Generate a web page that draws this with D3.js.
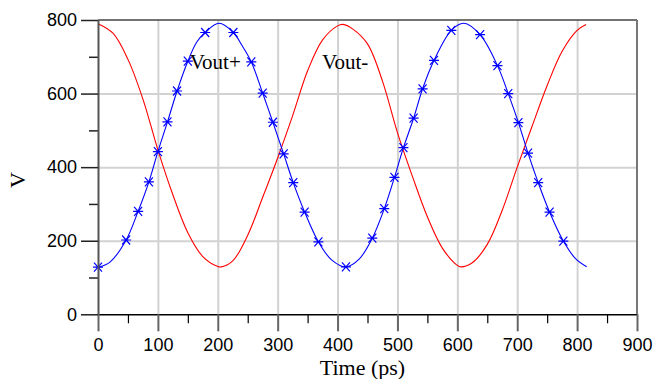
<!DOCTYPE html>
<html>
<head>
<meta charset="utf-8">
<script src="https://cdn.jsdelivr.net/npm/d3@7/dist/d3.min.js"></script>
<style>
  html, body { margin: 0; padding: 0; background: #fff; }
  svg { display: block; }
</style>
</head>
<body>
<svg id="chart" width="654" height="379"></svg>
<script>
// ---- data ----
const xTicks = [0, 100, 200, 300, 400, 500, 600, 700, 800, 900];
const xMinorTicks = [50, 150, 250, 350, 450, 550, 650, 750, 850];
const yTicks = [0, 200, 400, 600, 800];
const yMinorTicks = [100, 300, 500, 700];
const xTitle = "Time (ps)";
const yTitle = "V";

// Vout+ (blue) waveform
const voutPlusT = [0, 20, 47, 67, 85, 100, 116, 132, 150, 165, 179, 202, 226, 240, 256, 275, 292, 310, 326, 345, 368, 390, 414, 436, 458, 478, 495, 510, 527, 542, 561, 590, 611, 638, 667, 685, 702, 718, 735, 754, 777, 797, 816];
const voutPlusV = [128, 142, 202, 280, 360, 442, 523, 607, 688, 740, 766, 791, 766, 732, 686, 601, 522, 436, 358, 278, 197, 148, 129, 150, 207, 287, 372, 453, 533, 613, 690, 772, 791, 760, 676, 600, 521, 438, 358, 278, 199, 152, 129];

// Vout+ marker positions (asterisks)
const markerT = [0, 47, 67, 85, 100, 116, 132, 150, 179, 226, 256, 275, 292, 310, 326, 345, 368, 414, 458, 478, 495, 510, 527, 542, 561, 590, 638, 667, 685, 702, 718, 735, 754, 777];
const markerV = [128, 202, 280, 360, 442, 523, 607, 688, 766, 766, 686, 601, 522, 436, 358, 278, 197, 129, 207, 287, 372, 453, 533, 613, 690, 772, 760, 676, 600, 521, 438, 358, 278, 199];

// Vout- (red) waveform
const voutMinusT = [0, 25, 50, 75, 100, 125, 150, 175, 200, 206, 225, 250, 275, 300, 325, 350, 375, 400, 409, 425, 450, 475, 500, 525, 550, 575, 600, 606, 625, 650, 675, 700, 725, 750, 775, 800, 815];
const voutMinusV = [790, 764, 693, 585, 447, 325, 222, 157, 130, 129, 145, 215, 318, 425, 540, 662, 746, 784, 788, 776, 735, 634, 494, 375, 265, 180, 133, 129, 140, 190, 283, 400, 512, 622, 715, 772, 788];

const labels = [
  { text: "Vout+", t: 153, v: 680 },
  { text: "Vout-", t: 374, v: 680 }
];

// ---- drawing ----
const svg = d3.select("#chart");
const x = d3.scaleLinear().domain([0, 900]).range([98, 637]);
const y = d3.scaleLinear().domain([0, 800]).range([314.3, 20]);
const pLeft = x(0), pRight = x(900), pTop = y(800), pBottom = y(0);

// grid
const gx = svg.append("g").attr("transform", `translate(0,${pBottom})`)
  .call(d3.axisBottom(x).tickValues(xTicks.filter(d => d > 0 && d < 900)).tickSize(-(pBottom - pTop)).tickFormat(""));
gx.select(".domain").remove();
gx.selectAll("line").attr("stroke", "#d2d2d2").attr("stroke-width", 2);

const gy = svg.append("g").attr("transform", `translate(${pLeft},0)`)
  .call(d3.axisLeft(y).tickValues(yTicks.filter(d => d > 0 && d < 800)).tickSize(-(pRight - pLeft)).tickFormat(""));
gy.select(".domain").remove();
gy.selectAll("line").attr("stroke", "#d2d2d2").attr("stroke-width", 2);

// curves
const line = d3.line().curve(d3.curveCatmullRom.alpha(0.5));
svg.append("path")
  .attr("d", line(voutMinusT.map((t, i) => [x(t), y(voutMinusV[i])])))
  .attr("fill", "none").attr("stroke", "#ff0000").attr("stroke-width", 1.1);
svg.append("path")
  .attr("d", line(voutPlusT.map((t, i) => [x(t), y(voutPlusV[i])])))
  .attr("fill", "none").attr("stroke", "#0000ff").attr("stroke-width", 1.1);

// markers
svg.append("g").selectAll("path").data(markerT.map((t, i) => [t, markerV[i]])).join("path")
  .attr("transform", d => `translate(${x(d[0])},${y(d[1])})`)
  .attr("d", "M-5,0L5,0M-4,-4.5L4,4.5M-4,4.5L4,-4.5")
  .attr("fill", "none").attr("stroke", "#0000ff").attr("stroke-width", 1.2);

// frame: top and right
svg.append("line").attr("x1", pLeft).attr("x2", pRight).attr("y1", pTop).attr("y2", pTop)
  .attr("stroke", "#444").attr("stroke-width", 1.5);
svg.append("line").attr("x1", pRight).attr("x2", pRight).attr("y1", pTop).attr("y2", pBottom)
  .attr("stroke", "#777").attr("stroke-width", 2);

// x axis minor ticks
const xm = svg.append("g").attr("transform", `translate(0,${pBottom})`)
  .call(d3.axisBottom(x).tickValues(xMinorTicks).tickSize(9).tickFormat(""));
xm.select(".domain").remove();
xm.selectAll("line").attr("stroke", "#000").attr("stroke-width", 1.2);

// x axis major ticks
const xa = svg.append("g").attr("transform", `translate(0,${pBottom})`)
  .call(d3.axisBottom(x).tickValues(xTicks).tickSize(17).tickPadding(7).tickSizeOuter(0));
xa.select(".domain").attr("stroke", "#000").attr("stroke-width", 1.5);
xa.selectAll("line").attr("stroke", "#666").attr("stroke-width", 2);
xa.selectAll("text").attr("font-family", "Liberation Sans, Arial, sans-serif").attr("font-size", 18).attr("fill", "#000");

// y axis minor ticks
const ym = svg.append("g").attr("transform", `translate(${pLeft},0)`)
  .call(d3.axisLeft(y).tickValues(yMinorTicks).tickSize(9).tickFormat(""));
ym.select(".domain").remove();
ym.selectAll("line").attr("stroke", "#222").attr("stroke-width", 1.5);

// y axis major ticks
const ya = svg.append("g").attr("transform", `translate(${pLeft},0)`)
  .call(d3.axisLeft(y).tickValues(yTicks).tickSize(17).tickPadding(4).tickSizeOuter(0));
ya.select(".domain").attr("stroke", "#555").attr("stroke-width", 2);
ya.selectAll("line").attr("stroke", "#222").attr("stroke-width", 1.5);
ya.selectAll("text").attr("font-family", "Liberation Sans, Arial, sans-serif").attr("font-size", 18).attr("fill", "#000");

// titles
svg.append("text").attr("x", (pLeft + pRight) / 2 - 5).attr("y", 375)
  .attr("text-anchor", "middle").attr("font-family", "Liberation Serif, Times New Roman, serif")
  .attr("font-size", 22).text(xTitle);
svg.append("text").attr("transform", "translate(25,180) rotate(-90)")
  .attr("text-anchor", "middle").attr("font-family", "Liberation Serif, Times New Roman, serif")
  .attr("font-size", 22).text(yTitle);

// curve labels
svg.append("g").selectAll("text").data(labels).join("text")
  .attr("x", d => x(d.t)).attr("y", d => y(d.v) + 5)
  .attr("font-family", "Liberation Serif, Times New Roman, serif")
  .attr("font-size", 21).attr("fill", "#000").text(d => d.text);
</script>
</body>
</html>
